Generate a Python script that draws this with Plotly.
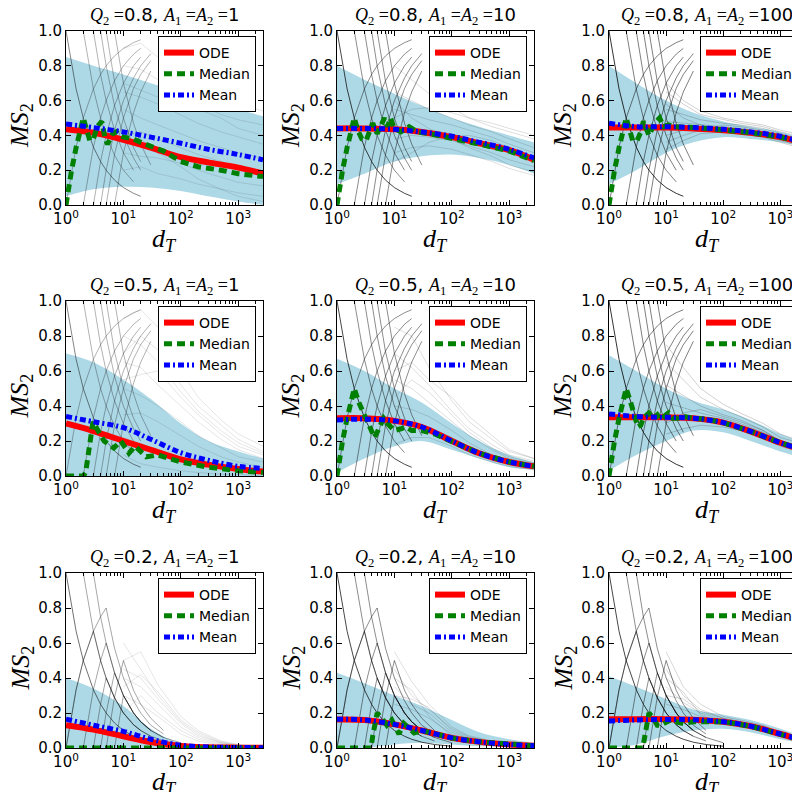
import math
import plotly.graph_objects as go

# ---------------- data ----------------
Q_VALUES = [0.8, 0.5, 0.2]          # rows
A_VALUES = [1, 10, 100]             # columns

D_CURVE = [1, 3, 10, 30, 100, 300, 1000, 2700]

ODE_VALUES = [
    [0.435, 0.415, 0.375, 0.33, 0.275, 0.245, 0.215, 0.18],
    [0.44, 0.44, 0.435, 0.42, 0.39, 0.355, 0.315, 0.26],
    [0.445, 0.445, 0.445, 0.44, 0.43, 0.415, 0.39, 0.355],
    [0.30, 0.257, 0.2, 0.15, 0.095, 0.065, 0.04, 0.025],
    [0.33, 0.33, 0.315, 0.28, 0.2, 0.13, 0.08, 0.055],
    [0.335, 0.335, 0.335, 0.33, 0.305, 0.255, 0.19, 0.145],
    [0.13, 0.105, 0.067, 0.034, 0.011, 0.004, 0.002, 0.001],
    [0.163, 0.16, 0.135, 0.1, 0.058, 0.035, 0.02, 0.013],
    [0.165, 0.165, 0.165, 0.162, 0.15, 0.125, 0.08, 0.04],
]

MEAN_VALUES = [
    [0.465, 0.445, 0.42, 0.39, 0.355, 0.32, 0.29, 0.26],
    [0.44, 0.44, 0.435, 0.42, 0.395, 0.36, 0.32, 0.27],
    [0.47, 0.45, 0.45, 0.445, 0.435, 0.42, 0.395, 0.355],
    [0.34, 0.31, 0.276, 0.21, 0.133, 0.09, 0.055, 0.044],
    [0.32, 0.325, 0.315, 0.28, 0.2, 0.13, 0.08, 0.055],
    [0.355, 0.34, 0.335, 0.33, 0.305, 0.255, 0.19, 0.145],
    [0.165, 0.13, 0.095, 0.05, 0.016, 0.006, 0.003, 0.002],
    [0.165, 0.16, 0.135, 0.1, 0.058, 0.035, 0.02, 0.013],
    [0.155, 0.16, 0.163, 0.162, 0.15, 0.125, 0.08, 0.04],
]

BAND_UPPER = [
    [0.85, 0.8, 0.75, 0.7, 0.65, 0.6, 0.55, 0.51],
    [0.8, 0.72, 0.64, 0.57, 0.5, 0.45, 0.4, 0.36],
    [0.8, 0.7, 0.6, 0.53, 0.48, 0.45, 0.42, 0.38],
    [0.70, 0.65, 0.55, 0.44, 0.3, 0.2, 0.14, 0.1],
    [0.67, 0.6, 0.5, 0.42, 0.3, 0.2, 0.12, 0.08],
    [0.69, 0.6, 0.5, 0.43, 0.38, 0.32, 0.24, 0.19],
    [0.4, 0.34, 0.24, 0.11, 0.025, 0.008, 0.004, 0.002],
    [0.43, 0.37, 0.3, 0.24, 0.16, 0.09, 0.05, 0.03],
    [0.41, 0.35, 0.28, 0.22, 0.19, 0.16, 0.11, 0.06],
]

BAND_LOWER = [
    [0.05, 0.09, 0.105, 0.1, 0.08, 0.05, 0.02, 0.0],
    [0.12, 0.18, 0.25, 0.28, 0.29, 0.27, 0.23, 0.18],
    [0.12, 0.2, 0.3, 0.36, 0.39, 0.38, 0.36, 0.33],
    [0.0, 0.0, 0.0, 0.0, 0.0, 0.0, 0.0, 0.0],
    [0.02, 0.1, 0.17, 0.2, 0.15, 0.1, 0.05, 0.035],
    [0.03, 0.12, 0.2, 0.26, 0.25, 0.2, 0.14, 0.1],
    [0.0, 0.0, 0.0, 0.0, 0.0, 0.0, 0.0, 0.0],
    [0.0, 0.0, 0.02, 0.03, 0.02, 0.01, 0.007, 0.005],
    [0.0, 0.02, 0.07, 0.1, 0.11, 0.09, 0.05, 0.025],
]

MEDIAN_X = [
    [1, 1.1, 1.25, 1.5, 1.75, 2, 2.3, 2.6, 3, 3.5, 4.2, 4.8, 5.3, 6.5, 7.5, 8.5, 10, 15, 20, 30, 50, 100, 200, 500, 1000, 2700],
    [1, 1.1, 1.25, 1.5, 1.75, 2, 2.3, 2.7, 3.2, 3.6, 4.2, 5, 6, 6.7, 7.6, 8.5, 10, 13, 18, 25, 40, 100, 300, 1000, 2700],
    [1, 1.1, 1.25, 1.5, 1.75, 2, 2.3, 2.6, 3.1, 3.6, 4, 5, 6.3, 7.7, 9, 11, 14, 20, 30, 50, 100, 300, 1000, 2700],
    [1, 2, 2.2, 2.95, 3.6, 4.6, 6.8, 9, 12.5, 16, 25, 40, 100, 300, 1000, 2700],
    [1, 1.1, 1.25, 1.5, 1.75, 2, 2.4, 2.8, 3.4, 4, 4.5, 5, 5.7, 6.5, 7.6, 8.5, 10, 13, 16, 20, 30, 50, 100, 300, 1000, 2700],
    [1, 1.1, 1.25, 1.5, 1.75, 2, 2.4, 2.8, 3.2, 3.6, 4, 5, 6, 7, 8, 10, 11, 13, 16, 20, 30, 50, 100, 300, 1000, 2700],
    [1, 10, 100, 1000, 2700],
    [1, 2, 3, 3.9, 4.2, 4.6, 5, 6, 7.4, 9, 10.5, 12, 14.6, 18, 22, 30, 50, 100, 300, 1000, 2700],
    [1, 2, 3, 3.9, 4.2, 4.6, 5, 6, 7, 8, 10, 12, 15, 20, 30, 40, 60, 100, 300, 1000, 2700],
]

MEDIAN_Y = [
    [0, .09, .2, .33, .43, .5, .43, .37, .38, .45, .48, .38, .35, .41, .42, .4, .39, .38, .36, .34, .31, .25, .22, .2, .18, .163],
    [0, .09, .2, .33, .43, .5, .43, .38, .37, .41, .47, .41, .46, .5, .45, .5, .44, .42, .45, .42, .41, .385, .35, .31, .255],
    [0, .09, .2, .33, .43, .5, .43, .37, .37, .42, .48, .4, .47, .5, .45, .46, .45, .45, .445, .44, .43, .415, .39, .355],
    [0, 0, .02, .31, .26, .2, .16, .2, .13, .17, .11, .12, .08, .05, .03, .02],
    [0, .09, .2, .33, .43, .5, .42, .37, .3, .25, .22, .25, .3, .33, .3, .28, .26, .27, .28, .26, .26, .24, .2, .13, .08, .055],
    [0, .09, .2, .33, .43, .5, .42, .33, .28, .29, .33, .36, .33, .35, .32, .35, .36, .33, .33, .34, .33, .325, .305, .255, .19, .145],
    [0, 0, 0, 0, 0],
    [0, 0, 0, 0, .07, .14, .2, .17, .13, .16, .12, .08, .14, .11, .086, .1, .08, .057, .035, .02, .013],
    [0, 0, 0, 0, .06, .14, .2, .17, .13, .13, .15, .16, .15, .14, .15, .15, .155, .15, .125, .08, .04],
]

# early, sharp sample-path segments (rows with Q2=0.8 and Q2=0.5)
LATTICE_HIGH_X = [
    [1, 1.5, 2, 3, 4, 5, 7, 10, 15, 20],
    [2, 3, 4, 5, 7, 10, 15],
    [3, 4, 5, 7, 10, 15],
    [4, 5, 7, 10, 15, 20],
    [5, 7, 10, 15, 20],
    [7, 10, 15, 20, 30],
    [1, 1.5, 2, 3, 4, 5, 7, 10, 15, 20],
    [2, 3, 4, 5, 7, 10, 15, 20],
    [3, 4, 5, 7, 10, 15, 20],
    [4, 5, 7, 10, 15, 20, 30],
    [5, 7, 10, 15, 20, 30],
    [7, 10, 15, 20, 30],
]
LATTICE_HIGH_Y = [
    [1, .667, .5, .333, .25, .2, .143, .1, .067, .05],
    [1, .667, .5, .4, .286, .2, .133],
    [1, .75, .6, .43, .3, .2],
    [1, .8, .57, .4, .27, .2],
    [1, .71, .5, .33, .25],
    [1, .7, .47, .35, .23],
    [0, .333, .5, .667, .75, .8, .857, .9, .933, .95],
    [0, .333, .5, .6, .714, .8, .867, .9],
    [0, .25, .4, .571, .7, .8, .85],
    [0, .2, .43, .6, .73, .8, .87],
    [0, .29, .5, .67, .75, .83],
    [0, .3, .53, .65, .77],
]

# early sample-path segments for the Q2=0.2 row
LATTICE_LOW_X = [
    [1, 1.5, 2, 3, 4, 5, 7, 10, 15, 20, 30, 50, 100],
    [2, 3, 4, 5, 7, 10, 15, 20, 30, 50],
    [3, 4, 5, 7, 10, 15, 20, 30, 50],
    [1, 1.5, 2, 3, 4, 5, 7, 10, 15, 20, 30],
    [2, 3, 4, 5, 7, 10, 15, 20, 30],
    [3, 4, 5, 7, 10, 15, 20],
    [4, 5, 7, 10, 15, 20, 30],
    [5, 7, 10, 15, 20, 30, 50],
    [1, 1.5, 2, 3, 4, 5, 7, 10, 15, 20, 30, 50],
    [7, 10, 15, 20, 30, 50, 100],
]
LATTICE_LOW_Y = [
    [1, .667, .5, .333, .25, .2, .143, .1, .067, .05, .033, .02, .01],
    [1, .667, .5, .4, .286, .2, .133, .1, .067, .04],
    [1, .75, .6, .43, .3, .2, .15, .1, .06],
    [0, .333, .5, .667, .5, .4, .286, .2, .133, .1, .067],
    [0, .333, .5, .6, .43, .3, .2, .15, .1],
    [0, .25, .4, .29, .2, .133, .1],
    [0, .2, .43, .3, .2, .15, .1],
    [0, .29, .5, .33, .25, .17, .1],
    [0, .333, .5, .667, .75, .8, .57, .4, .27, .2, .13, .08],
    [0, .3, .2, .15, .1, .06, .03],
]

# later, noisier sample paths per panel
LATE_D = [10, 20, 40, 100, 200, 500, 1000, 2700]
LATE_LINES = [
    [[0.90, 0.93, 0.85, 0.75, 0.68, 0.62, 0.58, 0.54],
     [0.80, 0.78, 0.72, 0.64, 0.58, 0.52, 0.49, 0.46],
     [0.65, 0.62, 0.58, 0.52, 0.47, 0.42, 0.39, 0.35],
     [0.55, 0.50, 0.46, 0.41, 0.37, 0.33, 0.30, 0.27],
     [0.40, 0.42, 0.38, 0.33, 0.29, 0.25, 0.22, 0.19],
     [0.30, 0.28, 0.27, 0.24, 0.20, 0.16, 0.13, 0.11],
     [0.20, 0.22, 0.18, 0.15, 0.12, 0.09, 0.07, 0.05],
     [0.45, 0.38, 0.30, 0.22, 0.15, 0.09, 0.05, 0.02],
     [0.70, 0.66, 0.62, 0.58, 0.55, 0.50, 0.44, 0.40]],
    [[0.80, 0.72, 0.64, 0.56, 0.50, 0.45, 0.42, 0.38],
     [0.65, 0.60, 0.55, 0.50, 0.46, 0.42, 0.38, 0.33],
     [0.55, 0.52, 0.49, 0.46, 0.43, 0.39, 0.35, 0.30],
     [0.45, 0.44, 0.43, 0.41, 0.38, 0.34, 0.31, 0.27],
     [0.38, 0.40, 0.39, 0.37, 0.34, 0.30, 0.26, 0.22],
     [0.30, 0.33, 0.34, 0.32, 0.29, 0.25, 0.21, 0.17],
     [0.50, 0.55, 0.56, 0.53, 0.50, 0.47, 0.44, 0.40],
     [0.60, 0.50, 0.44, 0.38, 0.33, 0.28, 0.23, 0.19],
     [0.25, 0.30, 0.36, 0.40, 0.40, 0.37, 0.33, 0.28]],
    [[0.65, 0.58, 0.52, 0.49, 0.47, 0.45, 0.42, 0.39],
     [0.55, 0.52, 0.49, 0.47, 0.46, 0.44, 0.41, 0.37],
     [0.48, 0.47, 0.46, 0.45, 0.44, 0.42, 0.39, 0.35],
     [0.40, 0.43, 0.44, 0.44, 0.43, 0.41, 0.38, 0.34],
     [0.32, 0.37, 0.41, 0.42, 0.41, 0.39, 0.36, 0.32],
     [0.58, 0.50, 0.46, 0.43, 0.42, 0.40, 0.37, 0.33],
     [0.36, 0.40, 0.43, 0.46, 0.45, 0.43, 0.40, 0.36],
     [0.70, 0.60, 0.54, 0.50, 0.48, 0.46, 0.43, 0.40]],
    [[0.90, 0.95, 0.85, 0.60, 0.45, 0.32, 0.24, 0.17],
     [0.80, 0.75, 0.65, 0.48, 0.37, 0.26, 0.19, 0.13],
     [0.65, 0.62, 0.52, 0.40, 0.31, 0.21, 0.15, 0.10],
     [0.50, 0.46, 0.40, 0.31, 0.23, 0.16, 0.11, 0.08],
     [0.35, 0.36, 0.31, 0.23, 0.17, 0.11, 0.08, 0.05],
     [0.22, 0.18, 0.15, 0.11, 0.08, 0.05, 0.03, 0.02],
     [0.70, 0.80, 0.72, 0.52, 0.40, 0.29, 0.21, 0.14],
     [0.12, 0.07, 0.05, 0.03, 0.02, 0.01, 0.01, 0.00],
     [0.55, 0.58, 0.60, 0.45, 0.35, 0.24, 0.17, 0.12]],
    [[0.85, 0.80, 0.62, 0.43, 0.31, 0.21, 0.14, 0.10],
     [0.70, 0.62, 0.52, 0.37, 0.27, 0.18, 0.12, 0.085],
     [0.55, 0.50, 0.42, 0.31, 0.23, 0.15, 0.10, 0.07],
     [0.40, 0.38, 0.34, 0.26, 0.19, 0.12, 0.085, 0.06],
     [0.28, 0.30, 0.28, 0.22, 0.16, 0.10, 0.07, 0.05],
     [0.18, 0.22, 0.22, 0.17, 0.12, 0.08, 0.055, 0.035],
     [0.60, 0.65, 0.55, 0.45, 0.34, 0.23, 0.15, 0.10],
     [0.45, 0.55, 0.48, 0.35, 0.25, 0.16, 0.11, 0.075]],
    [[0.65, 0.55, 0.45, 0.38, 0.34, 0.28, 0.22, 0.18],
     [0.52, 0.46, 0.40, 0.35, 0.32, 0.26, 0.20, 0.16],
     [0.42, 0.39, 0.36, 0.33, 0.30, 0.25, 0.19, 0.15],
     [0.33, 0.33, 0.33, 0.31, 0.28, 0.23, 0.18, 0.14],
     [0.24, 0.27, 0.29, 0.28, 0.26, 0.22, 0.17, 0.13],
     [0.75, 0.62, 0.50, 0.41, 0.36, 0.30, 0.24, 0.19],
     [0.30, 0.36, 0.38, 0.34, 0.31, 0.26, 0.20, 0.155]],
    [[0.60, 0.45, 0.30, 0.15, 0.08, 0.03, 0.015, 0.005],
     [0.50, 0.55, 0.36, 0.18, 0.10, 0.04, 0.02, 0.007],
     [0.40, 0.35, 0.25, 0.12, 0.06, 0.025, 0.012, 0.004],
     [0.30, 0.25, 0.18, 0.08, 0.04, 0.015, 0.008, 0.003],
     [0.20, 0.30, 0.20, 0.10, 0.05, 0.02, 0.01, 0.003],
     [0.45, 0.40, 0.28, 0.14, 0.07, 0.03, 0.015, 0.005],
     [0.35, 0.42, 0.32, 0.16, 0.09, 0.035, 0.018, 0.006]],
    [[0.55, 0.38, 0.25, 0.12, 0.07, 0.04, 0.025, 0.018],
     [0.45, 0.30, 0.22, 0.11, 0.065, 0.037, 0.022, 0.015],
     [0.35, 0.25, 0.20, 0.09, 0.055, 0.033, 0.02, 0.013],
     [0.25, 0.22, 0.17, 0.08, 0.05, 0.03, 0.018, 0.012],
     [0.30, 0.28, 0.23, 0.10, 0.06, 0.035, 0.02, 0.014],
     [0.40, 0.33, 0.18, 0.07, 0.045, 0.028, 0.016, 0.011]],
    [[0.55, 0.35, 0.25, 0.18, 0.16, 0.13, 0.085, 0.045],
     [0.45, 0.30, 0.22, 0.17, 0.15, 0.125, 0.08, 0.042],
     [0.35, 0.26, 0.20, 0.16, 0.145, 0.12, 0.078, 0.04],
     [0.25, 0.22, 0.18, 0.15, 0.14, 0.115, 0.075, 0.038],
     [0.30, 0.28, 0.21, 0.17, 0.15, 0.12, 0.08, 0.04],
     [0.40, 0.32, 0.19, 0.14, 0.13, 0.11, 0.07, 0.036]],
]

X_TICKS = [1, 10, 100, 1000]
X_TICK_TEXT = ["10<sup>0</sup>", "10<sup>1</sup>", "10<sup>2</sup>", "10<sup>3</sup>"]
X_MAX = 2700

# ---------------- layout geometry (pixels) ----------------
W, H = 800, 792
COLS_PX = [(58, 255), (329, 526), (601, 797)]
ROWS_PX = [(23, 197), (293, 468), (565, 740)]

LATTICE_ALPHA = [0.30, 0.45, 0.5, 0.30, 0.45, 0.5, 0.35, 0.45, 0.45]
LATE_ALPHA = [0.10, 0.13, 0.18, 0.10, 0.13, 0.18, 0.10, 0.13, 0.16]

SERIF = "Liberation Serif"
SANS = "DejaVu Sans"

fig = go.Figure()
minor_vals = [m * 10 ** k for k in range(4) for m in range(2, 10) if m * 10 ** k <= X_MAX]

annotations = []
for r in range(3):
    for c in range(3):
        p = r * 3 + c
        n = "" if p == 0 else str(p + 1)
        xa, ya = "x" + n, "y" + n
        leg = "legend" + n
        (x0, x1), (t, b) = COLS_PX[c], ROWS_PX[r]

        # band
        fig.add_trace(go.Scatter(x=D_CURVE, y=BAND_LOWER[p], mode="lines", line=dict(width=0, shape="spline"),
                                 hoverinfo="skip", showlegend=False, legend=leg, xaxis=xa, yaxis=ya))
        fig.add_trace(go.Scatter(x=D_CURVE, y=BAND_UPPER[p], mode="lines", line=dict(width=0, shape="spline"),
                                 fill="tonexty", fillcolor="#add8e6", hoverinfo="skip", showlegend=False,
                                 legend=leg, xaxis=xa, yaxis=ya))
        # sample paths
        lx, ly = (LATTICE_LOW_X, LATTICE_LOW_Y) if r == 2 else (LATTICE_HIGH_X, LATTICE_HIGH_Y)
        for i, (gx, gy) in enumerate(zip(lx, ly)):
            a = LATTICE_ALPHA[p] * (1.6 if i == 0 else 1.0)
            fig.add_trace(go.Scatter(x=gx, y=gy, mode="lines", line=dict(color=f"rgba(0,0,0,{min(a,0.85)})", width=1),
                                     hoverinfo="skip", showlegend=False, legend=leg, xaxis=xa, yaxis=ya))
        for gy in LATE_LINES[p]:
            fig.add_trace(go.Scatter(x=LATE_D, y=gy, mode="lines", line=dict(color=f"rgba(0,0,0,{LATE_ALPHA[p]})", width=1),
                                     hoverinfo="skip", showlegend=False, legend=leg, xaxis=xa, yaxis=ya))
        # main curves
        fig.add_trace(go.Scatter(x=D_CURVE, y=ODE_VALUES[p], mode="lines", name="ODE",
                                 line=dict(color="red", width=6, shape="spline"), legend=leg, xaxis=xa, yaxis=ya))
        fig.add_trace(go.Scatter(x=MEDIAN_X[p], y=MEDIAN_Y[p], mode="lines", name="Median",
                                 line=dict(color="green", width=5, dash="8px,5px"), legend=leg, xaxis=xa, yaxis=ya))
        fig.add_trace(go.Scatter(x=D_CURVE, y=MEAN_VALUES[p], mode="lines", name="Mean",
                                 line=dict(color="blue", width=5, dash="6px,3px,2px,3px", shape="spline"),
                                 legend=leg, xaxis=xa, yaxis=ya))

        xdom = [x0 / W, x1 / W]
        ydom = [1 - b / H, 1 - t / H]
        axis_common = dict(showline=True, linecolor="black", linewidth=1, mirror="ticks", ticks="inside",
                           tickcolor="black", ticklen=5, showgrid=False, zeroline=False, automargin=False,
                           tickfont=dict(family=SANS, size=15, color="black"))
        fig.layout["xaxis" + n] = dict(
            axis_common, type="log", range=[0, math.log10(X_MAX)], domain=xdom, anchor=ya,
            tickvals=X_TICKS, ticktext=X_TICK_TEXT,
            minor=dict(ticks="inside", ticklen=3, tickcolor="black", tickvals=minor_vals, showgrid=False),
        )
        fig.layout["yaxis" + n] = dict(
            axis_common, range=[0, 1], domain=ydom, anchor=xa, dtick=0.2, tickformat=".1f",
        )
        fig.layout[leg] = dict(
            x=(x1 - 7) / W, y=1 - (t + 5) / H, xanchor="right", yanchor="top", xref="paper", yref="paper",
            bgcolor="white", bordercolor="black", borderwidth=1, font=dict(family=SANS, size=14, color="black"),
            itemwidth=30, tracegroupgap=0, traceorder="normal",
        )
        title = (f'<span style="font-family:{SERIF}"><i>Q</i><sub>2</sub> =</span>{Q_VALUES[r]}, '
                 f'<span style="font-family:{SERIF}"><i>A</i><sub>1</sub> =<i>A</i><sub>2</sub> =</span>{A_VALUES[c]}')
        annotations.append(dict(text=title, x=(x0 + x1) / 2 / W, y=1 - (t - 1) / H, xref="paper", yref="paper",
                                xanchor="center", yanchor="bottom", showarrow=False,
                                font=dict(family=SANS, size=18, color="black")))
        # axis titles
        annotations.append(dict(text="<i>d</i><sub><i>T</i></sub>", x=(x0 + x1) / 2 / W, y=1 - (b + 35) / H,
                                xref="paper", yref="paper", xanchor="center", yanchor="middle", showarrow=False,
                                font=dict(family=SERIF, size=26, color="black")))
        annotations.append(dict(text="<i>MS</i><sub>2</sub>", x=(x0 - 45) / W, y=1 - ((t + b) / 2 + 8) / H,
                                xref="paper", yref="paper", xanchor="center", yanchor="middle", showarrow=False,
                                textangle=-90, font=dict(family=SERIF, size=26, color="black")))

fig.update_layout(width=W, height=H, margin=dict(l=0, r=0, t=0, b=0, autoexpand=False), plot_bgcolor="white",
                  paper_bgcolor="white", annotations=annotations, showlegend=True)
fig.write_html("out.html")
